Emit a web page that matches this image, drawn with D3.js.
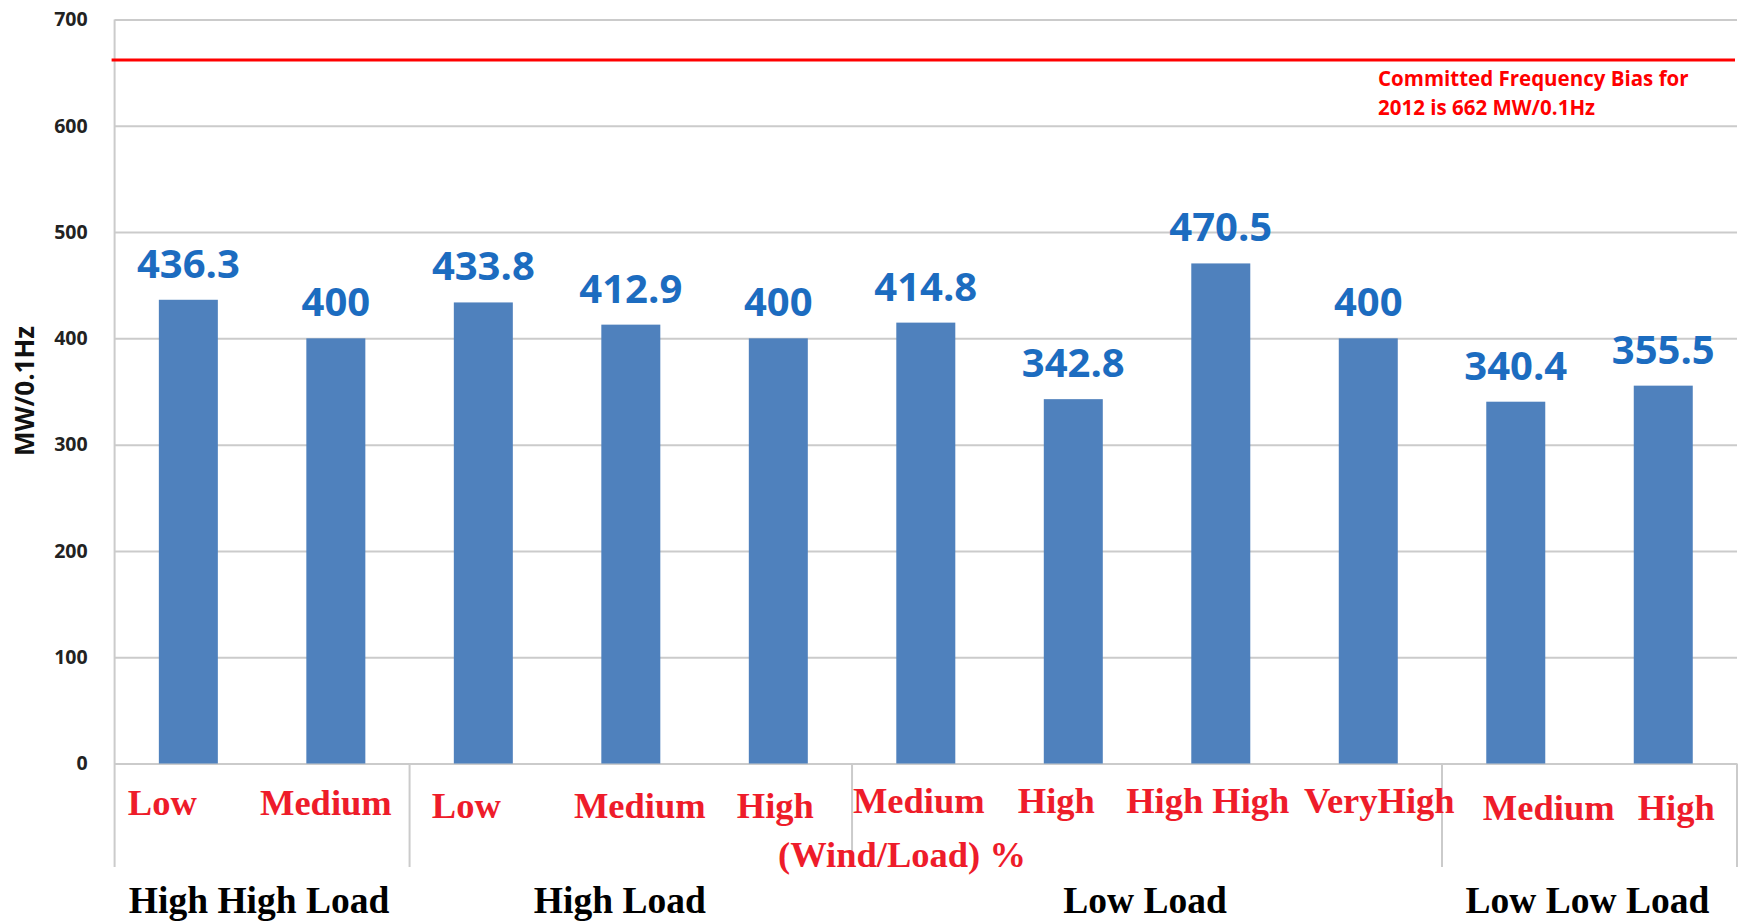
<!DOCTYPE html>
<html>
<head>
<meta charset="utf-8">
<script src="https://cdn.jsdelivr.net/npm/d3@7/dist/d3.min.js"></script>
<style>
  html, body { margin: 0; padding: 0; background: #ffffff; }
  svg { display: block; }
</style>
</head>
<body>
<svg id="chart" width="1744" height="924"></svg>
<script>
// Frequency response (MW/0.1Hz) by load level and wind penetration
const categories = ["Low", "Medium", "Low", "Medium", "High", "Medium", "High", "High High", "VeryHigh", "Medium", "High"];
const values = [436.3, 400, 433.8, 412.9, 400, 414.8, 342.8, 470.5, 400, 340.4, 355.5];
const groupNames = ["High High Load", "High Load", "Low Load", "Low Low Load"];
const groupSizes = [2, 3, 4, 2];
const yTicks = [0, 100, 200, 300, 400, 500, 600, 700];
const committedBias = 662;
const biasNote = ["Committed Frequency Bias for", "2012 is 662 MW/0.1Hz"];
const axisTitle = "MW/0.1Hz";
const xAxisTitle = "(Wind/Load) %";

// layout
const W = 1744, H = 924;
const plotLeft = 114.6, plotRight = 1737, plotTop = 19.5, zeroY = 763.5, sepBottom = 867;
const gridColor = "#cbcbcb";
const barColor = "#4f81bd";
const valueColor = "#1c6cc0";
const catColor = "#ee1c2a";

// hand-placed offsets for the category captions [dx, dy] and group captions dx
const captionNudge = [[-26, -2], [-10, -2], [-17, 1], [9, 1], [-3, 1], [-7, -4], [-17, -4], [-13, -4], [11, -4], [33, 3], [13, 3]];
const groupNudge = [-3, -11, -2, -2];

const svg = d3.select("#chart");
svg.append("rect").attr("width", W).attr("height", H).attr("fill", "#fff");

const x = d3.scaleBand()
  .domain(d3.range(categories.length))
  .range([plotLeft, plotRight])
  .paddingInner(0.6)
  .paddingOuter(0.3);

const y = d3.scaleLinear().domain([0, 700]).range([zeroY, plotTop]);

// y axis with full-width gridlines
const yAxis = d3.axisLeft(y)
  .tickValues(yTicks)
  .tickSizeInner(-(plotRight - plotLeft))
  .tickSizeOuter(0)
  .tickPadding(27)
  .tickFormat(d3.format("d"));

const gAxis = svg.append("g")
  .attr("transform", `translate(${plotLeft},0)`)
  .call(yAxis);
gAxis.select(".domain").remove();
gAxis.selectAll(".tick line").attr("stroke", gridColor).attr("stroke-width", 2);
gAxis.selectAll(".tick text")
  .attr("fill", "#222")
  .style("font-family", "'Open Sans', sans-serif")
  .style("font-weight", 700)
  .style("font-size", "19.5px");

// left axis line running down through the category area
svg.append("line")
  .attr("x1", plotLeft).attr("x2", plotLeft)
  .attr("y1", plotTop).attr("y2", sepBottom)
  .attr("stroke", gridColor).attr("stroke-width", 2);

// group separators below the baseline
let cum = 0;
const boundaries = groupSizes.map(n => (cum += n));
const step = x.step();
const groupEdge = i => plotLeft + step * i;
svg.selectAll("line.sep")
  .data(boundaries)
  .join("line")
  .attr("class", "sep")
  .attr("x1", d => groupEdge(d)).attr("x2", d => groupEdge(d))
  .attr("y1", zeroY).attr("y2", sepBottom)
  .attr("stroke", gridColor).attr("stroke-width", 2);

// bars
svg.selectAll("rect.bar")
  .data(values)
  .join("rect")
  .attr("class", "bar")
  .attr("x", (d, i) => x(i))
  .attr("width", x.bandwidth())
  .attr("y", d => y(d))
  .attr("height", d => y(0) - y(d))
  .attr("fill", barColor);

// value labels
svg.selectAll("text.val")
  .data(values)
  .join("text")
  .attr("class", "val")
  .attr("x", (d, i) => x(i) + x.bandwidth() / 2)
  .attr("y", d => y(d) - 22)
  .attr("text-anchor", "middle")
  .attr("fill", valueColor)
  .style("font-family", "'Open Sans', sans-serif")
  .style("font-weight", 700)
  .style("font-size", "40px")
  .text(d => String(d));

// committed frequency bias line
svg.append("line")
  .attr("x1", plotLeft - 3).attr("x2", plotRight - 2)
  .attr("y1", y(committedBias)).attr("y2", y(committedBias))
  .attr("stroke", "#ff0000").attr("stroke-width", 3);

svg.append("text")
  .attr("x", 1378)
  .attr("y", y(committedBias) + 26)
  .attr("fill", "#ff0000")
  .style("font-family", "'Open Sans', sans-serif")
  .style("font-weight", 700)
  .style("font-size", "20.5px")
  .selectAll("tspan")
  .data(biasNote)
  .join("tspan")
  .attr("x", 1378)
  .attr("dy", (d, i) => i === 0 ? 0 : 29)
  .text(d => d);

// y axis title
svg.append("text")
  .attr("transform", `translate(24,391) rotate(-90)`)
  .attr("text-anchor", "middle")
  .attr("dominant-baseline", "central")
  .attr("fill", "#111")
  .style("font-family", "'Open Sans', sans-serif")
  .style("font-weight", 700)
  .style("font-size", "26px")
  .text(axisTitle);

// category captions
const serif = "'Liberation Serif', 'Times New Roman', serif";
svg.selectAll("text.cat")
  .data(categories)
  .join("text")
  .attr("class", "cat")
  .attr("x", (d, i) => x(i) + x.bandwidth() / 2 + captionNudge[i][0])
  .attr("y", (d, i) => 817 + captionNudge[i][1])
  .attr("text-anchor", "middle")
  .attr("fill", catColor)
  .style("font-family", serif)
  .style("font-weight", 700)
  .style("font-size", "36.5px")
  .text(d => d);

svg.append("text")
  .attr("x", 902)
  .attr("y", 867)
  .attr("text-anchor", "middle")
  .attr("fill", catColor)
  .style("font-family", serif)
  .style("font-weight", 700)
  .style("font-size", "36.5px")
  .text(xAxisTitle);

// load group captions
let start = 0;
const groupSpans = groupSizes.map(n => { const s = start; start += n; return [s, start]; });
svg.selectAll("text.grp")
  .data(groupNames)
  .join("text")
  .attr("class", "grp")
  .attr("x", (d, i) => (groupEdge(groupSpans[i][0]) + groupEdge(groupSpans[i][1])) / 2 + groupNudge[i])
  .attr("y", 913)
  .attr("text-anchor", "middle")
  .attr("fill", "#000")
  .style("font-family", serif)
  .style("font-weight", 700)
  .style("font-size", "37.5px")
  .text(d => d);
</script>
</body>
</html>
